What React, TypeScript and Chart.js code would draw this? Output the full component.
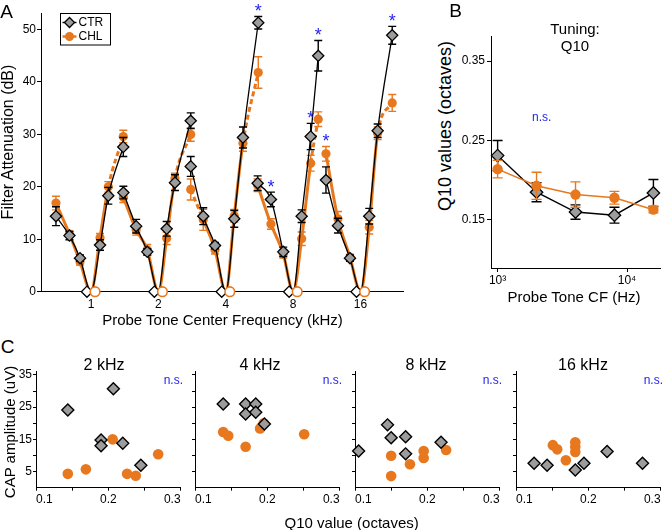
import React, { useEffect, useRef } from 'react';
import { Chart, registerables } from 'chart.js';

Chart.register(...registerables);

const FONT = '"Liberation Sans", Arial, Helvetica, sans-serif';
Chart.defaults.font.family = FONT;
Chart.defaults.font.size = 12;
Chart.defaults.color = '#000';

const ORANGE = '#E8781E';
const GRAY = '#9C9C9C';
const BLUE = '#2424F2';
const BLACK = '#000000';

// ---------------- Panel A : filter attenuation ----------------
const probeFreqsKHz = [1, 2, 4, 8, 16];
const probeOctaves = [0, 1, 2, 3, 4]; // log2(kHz)
const attenTicks = [0, 10, 20, 30, 40, 50];

// masker position relative to probe (octaves); index 3 = probe itself (0 dB)
const offsets1k = [-0.52, -0.32, -0.163, 0, 0.134, 0.257, 0.479];
const offsets2k = [-0.52, -0.33, -0.165, 0, 0.123, 0.246, 0.48];
const offsets4k = [-0.52, -0.334, -0.16, 0, 0.126, 0.255, 0.482];
const offsets8k = [-0.527, -0.33, -0.147, 0, 0.126, 0.26, 0.372];
const offsets16k = [-0.513, -0.335, -0.157, 0, 0.129, 0.254, 0.47];

const ctr1k = [14.4, 10.7, 6.4, 0, 8.9, 18.3, 27.6];
const ctr2k = [18.9, 12.5, 7.6, 0, 12.0, 20.8, 32.6];
const ctr4k = [23.9, 14.4, 8.8, 0, 13.9, 29.4, 51.3];
const ctr8k = [20.7, 17.6, 7.6, 0, 14.4, 29.6, 45.0];
const ctr16k = [21.3, 12.6, 6.4, 0, 14.4, 30.7, 48.9];

const ctrErr1k = [1.8, 0.8, 0.6, 0, 1.0, 1.6, 1.8];
const ctrErr2k = [1.2, 1.3, 0.6, 0, 1.4, 1.5, 1.5];
const ctrErr4k = [1.9, 1.6, 0.6, 0, 1.6, 2.0, 1.2];
const ctrErr8k = [1.4, 1.4, 0.9, 0, 1.2, 2.5, 2.9];
const ctrErr16k = [2.5, 1.4, 0.6, 0, 1.5, 1.3, 1.7];

const chl1k = [16.9, 11.0, 5.7, 0, 10.3, 20.0, 29.6];
const chl2k = [18.0, 11.8, 8.0, 0, 10.2, 21.6, 30.0];
const chl4k = [19.5, 13.7, 8.0, 0, 14.5, 28.3, 41.8];
const chl8k = [20.3, 12.9, 7.2, 0, 10.1, 24.5, 32.9];
const chl16k = [26.3, 13.9, 6.6, 0, 12.3, 30.2, 36.0];

const chlErr1k = [1.3, 0.6, 0.6, 0, 0.8, 1.0, 1.2];
const chlErr2k = [1.0, 1.0, 1.0, 0, 1.2, 1.0, 1.3];
const chlErr4k = [2.0, 2.0, 0.8, 0, 1.2, 1.5, 3.0];
const chlErr8k = [1.2, 1.0, 0.8, 0, 1.3, 1.5, 1.4];
const chlErr16k = [1.4, 1.4, 0.5, 0, 1.3, 1.2, 1.6];

// significant differences: [probe index, masker index]
const sigPoints = [[2, 6], [3, 1], [3, 5], [3, 6], [4, 0], [4, 6]];

const maskerOffsets = [offsets1k, offsets2k, offsets4k, offsets8k, offsets16k];
const ctrAtten = [ctr1k, ctr2k, ctr4k, ctr8k, ctr16k];
const ctrErr = [ctrErr1k, ctrErr2k, ctrErr4k, ctrErr8k, ctrErr16k];
const chlAtten = [chl1k, chl2k, chl4k, chl8k, chl16k];
const chlErr = [chlErr1k, chlErr2k, chlErr4k, chlErr8k, chlErr16k];

// ---------------- Panel B : Q10 tuning ----------------
const cfHz = [1000, 2000, 4000, 8000, 16000];
const q10Ctr = [0.231, 0.185, 0.160, 0.156, 0.184];
const q10CtrErr = [0.019, 0.012, 0.009, 0.010, 0.017];
const q10Chl = [0.214, 0.193, 0.182, 0.178, 0.163];
const q10ChlErr = [0.011, 0.017, 0.016, 0.008, 0.004];
const q10Ticks = [0.15, 0.25, 0.35];
const cfTicks = [1000, 10000];
const cfTickLabels = ['10³', '10⁴'];

// ---------------- Panel C : CAP amplitude vs Q10 ----------------
const cTitles = ['2 kHz', '4 kHz', '8 kHz', '16 kHz'];

const q10Ctr2k = [0.144, 0.207, 0.190, 0.190, 0.220, 0.245];
const capCtr2k = [24.1, 30.7, 14.8, 13.0, 13.8, 7.0];
const q10Chl2k = [0.144, 0.169, 0.206, 0.226, 0.238, 0.269];
const capChl2k = [4.3, 5.7, 15.0, 4.3, 3.7, 10.4];

const q10Ctr4k = [0.139, 0.170, 0.184, 0.170, 0.184, 0.196];
const capCtr4k = [26.0, 26.0, 26.0, 22.9, 23.4, 19.8];
const q10Chl4k = [0.139, 0.146, 0.170, 0.190, 0.195, 0.251];
const capChl4k = [17.3, 16.1, 12.7, 18.4, 20.0, 16.6];

const q10Ctr8k = [0.105, 0.145, 0.150, 0.170, 0.170, 0.219];
const capCtr8k = [11.4, 19.5, 15.5, 15.8, 10.5, 14.1];
const q10Chl8k = [0.150, 0.150, 0.176, 0.195, 0.195, 0.226];
const capChl8k = [9.9, 3.6, 7.3, 11.4, 9.2, 11.7];

const q10Ctr16k = [0.125, 0.143, 0.182, 0.194, 0.226, 0.275];
const capCtr16k = [7.6, 7.0, 5.5, 7.6, 11.2, 7.6];
const q10Chl16k = [0.151, 0.157, 0.169, 0.182, 0.182, 0.182];
const capChl16k = [13.2, 11.9, 8.5, 14.1, 12.7, 11.1];

const cCtrX = [q10Ctr2k, q10Ctr4k, q10Ctr8k, q10Ctr16k];
const cCtrY = [capCtr2k, capCtr4k, capCtr8k, capCtr16k];
const cChlX = [q10Chl2k, q10Chl4k, q10Chl8k, q10Chl16k];
const cChlY = [capChl2k, capChl4k, capChl8k, capChl16k];

const q10XTicks = [0.1, 0.15, 0.2, 0.25, 0.3];
const q10XTickLabels = ['0.1', '', '0.2', '', '0.3'];
const capTicks = [5, 10, 15, 20, 25, 30, 35];
const capTickLabels = ['5', '', '15', '', '25', '', '35'];

// ---------------- styling helpers ----------------
const chlDashedSegments = [[5], [5], [0, 5], [5], [5]];
const zeroMarkerShift = 0.06;

const errorBarPlugin = {
  id: 'errorBars',
  beforeDatasetDraw(chart: any, args: any) {
    const ds = chart.data.datasets[args.index];
    if (!ds.errors) return;
    const meta = args.meta;
    const yScale = chart.scales[meta.yAxisID];
    const ctx = chart.ctx;
    ctx.save();
    ctx.strokeStyle = ds.errorColor || BLACK;
    ctx.lineWidth = ds.errorWidth || 1.4;
    const cw = ds.capHalf || 4;
    meta.data.forEach((el: any, i: number) => {
      const e = ds.errors[i];
      if (!e) return;
      const v = ds.data[i].y;
      const x = el.x;
      const yt = yScale.getPixelForValue(v + e);
      const yb = yScale.getPixelForValue(v - e);
      ctx.beginPath();
      ctx.moveTo(x, yt); ctx.lineTo(x, yb);
      ctx.moveTo(x - cw, yt); ctx.lineTo(x + cw, yt);
      ctx.moveTo(x - cw, yb); ctx.lineTo(x + cw, yb);
      ctx.stroke();
    });
    ctx.restore();
  },
};

const starPlugin = {
  id: 'stars',
  afterDatasetsDraw(chart: any) {
    const xs = chart.scales.x;
    const ys = chart.scales.y;
    const ctx = chart.ctx;
    ctx.save();
    ctx.fillStyle = BLUE;
    ctx.font = `18px ${FONT}`;
    ctx.textAlign = 'center';
    ctx.textBaseline = 'alphabetic';
    sigPoints.forEach(([k, i]) => {
      const top = Math.max(ctrAtten[k][i] + ctrErr[k][i], chlAtten[k][i] + chlErr[k][i]);
      const px = xs.getPixelForValue(probeOctaves[k] + maskerOffsets[k][i]);
      const py = ys.getPixelForValue(top) - 10;
      ctx.fillText('*', px, py + 10.5);
    });
    ctx.restore();
  },
};

const legendPlugin = {
  id: 'boxLegend',
  afterDraw(chart: any) {
    const ctx = chart.ctx;
    const bx = 60.5, by = 13.5, bw = 50, bh = 31.5;
    ctx.save();
    ctx.strokeStyle = BLACK;
    ctx.lineWidth = 1;
    ctx.strokeRect(bx, by, bw, bh);
    const rows = [
      { label: 'CTR', y: by + 9, line: BLACK, lw: 1.4 },
      { label: 'CHL', y: by + 23, line: ORANGE, lw: 2.5 },
    ];
    rows.forEach((r, idx) => {
      ctx.strokeStyle = r.line;
      ctx.lineWidth = r.lw;
      ctx.beginPath();
      ctx.moveTo(bx + 2, r.y);
      ctx.lineTo(bx + 16, r.y);
      ctx.stroke();
      const cx = bx + 9;
      if (idx === 0) {
        ctx.beginPath();
        ctx.moveTo(cx - 5, r.y); ctx.lineTo(cx, r.y - 5); ctx.lineTo(cx + 5, r.y); ctx.lineTo(cx, r.y + 5);
        ctx.closePath();
        ctx.fillStyle = GRAY; ctx.fill();
        ctx.strokeStyle = BLACK; ctx.lineWidth = 1.3; ctx.stroke();
      } else {
        ctx.beginPath();
        ctx.arc(cx, r.y, 4.5, 0, Math.PI * 2);
        ctx.fillStyle = ORANGE; ctx.fill();
      }
      ctx.fillStyle = BLACK;
      ctx.font = `12px ${FONT}`;
      ctx.textAlign = 'left';
      ctx.textBaseline = 'middle';
      ctx.fillText(r.label, bx + 18, r.y + 0.5);
    });
    ctx.restore();
  },
};

function configA() {
  const datasets: any[] = [];
  const keep = [0, 1, 2, 4, 5, 6];
  probeOctaves.forEach((p, k) => {
    const xs = maskerOffsets[k].map((o) => p + o);
    datasets.push({
      data: xs.map((x, i) => ({ x, y: chlAtten[k][i] })),
      showLine: true, borderColor: ORANGE, borderWidth: 3, pointRadius: 0,
      cubicInterpolationMode: 'monotone', order: 40, clip: false,
      segment: { borderDash: (c: any) => (chlDashedSegments[k].includes(c.p0DataIndex) ? [5, 3] : undefined) },
    });
    datasets.push({
      data: keep.map((i) => ({ x: xs[i], y: chlAtten[k][i] })),
      errors: keep.map((i) => chlErr[k][i]), errorColor: ORANGE, capHalf: 4,
      showLine: false, pointStyle: 'circle', pointRadius: 4.6,
      backgroundColor: ORANGE, borderColor: ORANGE, borderWidth: 0, order: 30, clip: false,
    });
    datasets.push({
      data: xs.map((x, i) => ({ x, y: ctrAtten[k][i] })),
      showLine: true, borderColor: BLACK, borderWidth: 1.3, pointRadius: 0,
      cubicInterpolationMode: 'monotone', order: 20, clip: false,
    });
    datasets.push({
      data: keep.map((i) => ({ x: xs[i], y: ctrAtten[k][i] })),
      errors: keep.map((i) => ctrErr[k][i]), errorColor: BLACK, capHalf: 4,
      showLine: false, pointStyle: 'rectRot', pointRadius: 5.6,
      backgroundColor: GRAY, borderColor: BLACK, borderWidth: 1.3, order: 10, clip: false,
    });
  });
  datasets.push({
    data: probeOctaves.map((p) => ({ x: p - zeroMarkerShift, y: 0 })),
    showLine: false, pointStyle: 'rectRot', pointRadius: 5.6,
    backgroundColor: '#ffffff', borderColor: BLACK, borderWidth: 1.3, order: 6, clip: false,
  });
  datasets.push({
    data: probeOctaves.map((p) => ({ x: p + zeroMarkerShift, y: 0 })),
    showLine: false, pointStyle: 'circle', pointRadius: 4.8,
    backgroundColor: '#ffffff', borderColor: ORANGE, borderWidth: 1.6, order: 5, clip: false,
  });

  return {
    type: 'scatter',
    data: { datasets },
    plugins: [errorBarPlugin, starPlugin, legendPlugin],
    options: {
      animation: false, responsive: false, maintainAspectRatio: false, events: [],
      layout: { padding: { left: 0, top: 13.3, right: 12, bottom: 0 } },
      plugins: { legend: { display: false }, tooltip: { enabled: false } },
      scales: {
        x: {
          type: 'linear', min: -0.742, max: 4.63,
          afterBuildTicks: (s: any) => { s.ticks = probeOctaves.map((v) => ({ value: v })); },
          afterFit: (s: any) => { s.height = 28.3; },
          ticks: {
            autoSkip: false, maxRotation: 0, padding: 6, font: { size: 12 }, color: BLACK,
            callback: (_v: any, i: number) => String(probeFreqsKHz[i]),
          },
          grid: { display: false, drawTicks: false },
          border: { display: true, color: BLACK, width: 1 },
        },
        y: {
          type: 'linear', min: 0, max: 53.1,
          afterBuildTicks: (s: any) => { s.ticks = attenTicks.map((v) => ({ value: v })); },
          afterFit: (s: any) => { s.width = 41; },
          ticks: { padding: 1, font: { size: 12 }, color: BLACK, callback: (v: any) => String(v) },
          grid: { drawOnChartArea: false, drawTicks: true, tickLength: 4, color: BLACK, tickColor: BLACK },
          border: { display: true, color: BLACK, width: 1 },
        },
      },
    },
  };
}

function configB() {
  return {
    type: 'scatter',
    data: {
      datasets: [
        {
          data: cfHz.map((f, i) => ({ x: f, y: q10Chl[i] })),
          errors: q10ChlErr, errorColor: ORANGE, capHalf: 5,
          showLine: true, borderColor: ORANGE, borderWidth: 1.5,
          pointStyle: 'circle', pointRadius: 5.2, pointBackgroundColor: ORANGE,
          pointBorderColor: ORANGE, pointBorderWidth: 0, order: 1, clip: false,
        },
        {
          data: cfHz.map((f, i) => ({ x: f, y: q10Ctr[i] })),
          errors: q10CtrErr, errorColor: BLACK, capHalf: 5,
          showLine: true, borderColor: BLACK, borderWidth: 1.4,
          pointStyle: 'rectRot', pointRadius: 6.2, pointBackgroundColor: GRAY,
          pointBorderColor: BLACK, pointBorderWidth: 1.3, order: 2, clip: false,
        },
      ],
    },
    plugins: [errorBarPlugin],
    options: {
      animation: false, responsive: false, maintainAspectRatio: false, events: [],
      layout: { padding: { left: 0, top: 11.7, right: 5, bottom: 0 } },
      plugins: { legend: { display: false }, tooltip: { enabled: false } },
      scales: {
        x: {
          type: 'logarithmic', min: 889, max: 18150,
          afterBuildTicks: (s: any) => { s.ticks = cfTicks.map((v) => ({ value: v })); },
          afterFit: (s: any) => { s.height = 32; },
          ticks: {
            autoSkip: false, maxRotation: 0, padding: 1, font: { size: 12 }, color: BLACK,
            callback: (_v: any, i: number) => cfTickLabels[i],
          },
          grid: { drawOnChartArea: false, drawTicks: true, tickLength: 4, color: BLACK, tickColor: BLACK },
          border: { display: true, color: BLACK, width: 1 },
        },
        y: {
          type: 'linear', min: 0.0896, max: 0.3806,
          afterBuildTicks: (s: any) => { s.ticks = q10Ticks.map((v) => ({ value: v })); },
          afterFit: (s: any) => { s.width = 36; },
          ticks: { padding: 2, font: { size: 12 }, color: BLACK, callback: (v: any) => Number(v).toFixed(2) },
          grid: { drawOnChartArea: false, drawTicks: true, tickLength: 4, color: BLACK, tickColor: BLACK },
          border: { display: true, color: BLACK, width: 1 },
        },
      },
    },
  };
}

function configC(k: number) {
  return () => ({
    type: 'scatter',
    data: {
      datasets: [
        {
          data: cChlX[k].map((x, i) => ({ x, y: cChlY[k][i] })),
          pointStyle: 'circle', pointRadius: 5.3, backgroundColor: ORANGE,
          borderColor: ORANGE, borderWidth: 0, order: 2, clip: false,
        },
        {
          data: cCtrX[k].map((x, i) => ({ x, y: cCtrY[k][i] })),
          pointStyle: 'rectRot', pointRadius: 6, backgroundColor: GRAY,
          borderColor: BLACK, borderWidth: 1.4, order: 1, clip: false,
        },
      ],
    },
    options: {
      animation: false, responsive: false, maintainAspectRatio: false, events: [],
      layout: { padding: { left: 0, top: 11.7, right: 3, bottom: 0 } },
      plugins: { legend: { display: false }, tooltip: { enabled: false } },
      scales: {
        x: {
          type: 'linear', min: 0.1, max: 0.3,
          afterBuildTicks: (s: any) => { s.ticks = q10XTicks.map((v) => ({ value: v })); },
          afterFit: (s: any) => { s.height = 17.3; },
          ticks: {
            align: 'inner', autoSkip: false, maxRotation: 0, padding: 1.5, font: { size: 12 }, color: BLACK,
            callback: (_v: any, i: number) => q10XTickLabels[i],
          },
          grid: { drawOnChartArea: false, drawTicks: true, tickLength: 3, color: BLACK, tickColor: BLACK },
          border: { display: true, color: BLACK, width: 1 },
        },
        y: {
          type: 'linear', min: 0, max: 36,
          afterBuildTicks: (s: any) => { s.ticks = capTicks.map((v) => ({ value: v })); },
          afterFit: (s: any) => { s.width = 36; },
          ticks: {
            padding: 1, font: { size: 12 }, color: BLACK,
            callback: (_v: any, i: number) => (k === 0 ? capTickLabels[i] : ''),
          },
          grid: { drawOnChartArea: false, drawTicks: true, tickLength: 3, color: BLACK, tickColor: BLACK },
          border: { display: true, color: BLACK, width: 1 },
        },
      },
    },
  });
}

function ChartCanvas({ left, top, width, height, make }: any) {
  const ref = useRef<HTMLCanvasElement | null>(null);
  useEffect(() => {
    if (!ref.current) return;
    const chart = new Chart(ref.current, make());
    return () => chart.destroy();
  }, []);
  return (
    <canvas
      ref={ref}
      width={width}
      height={height}
      style={{ position: 'absolute', left, top, width, height, display: 'block' }}
    />
  );
}

function Txt({ x, y, size, children, rotate, color, align }: any) {
  const tx = align === 'right' ? '-100%' : align === 'left' ? '0%' : '-50%';
  return (
    <div
      style={{
        position: 'absolute', left: x, top: y, fontFamily: FONT, fontSize: size,
        lineHeight: 1, color: color || BLACK, whiteSpace: 'nowrap',
        transform: `translate(${tx}, -50%)${rotate ? ' rotate(-90deg)' : ''}`,
      }}
    >
      {children}
    </div>
  );
}

const cLefts = [36, 195, 355, 516];
const cTitleX = [104, 260, 426, 583];

export default function App() {
  return (
    <div
      style={{
        position: 'absolute', left: 0, top: 0, width: 668, height: 530,
        background: '#ffffff', overflow: 'hidden', fontFamily: FONT,
      }}
    >
      <ChartCanvas left={0} top={0} width={415} height={320} make={configA} />
      <ChartCanvas left={455} top={25} width={213} height={275} make={configB} />
      {cLefts.map((l, k) => (
        <ChartCanvas key={k} left={l - 36} top={360} width={36 + 149 + 3} height={145} make={configC(k)} />
      ))}

      <Txt x={6.5} y={10.5} size={19}>A</Txt>
      <Txt x={455.5} y={10} size={19}>B</Txt>
      <Txt x={7.5} y={345.5} size={19}>C</Txt>

      <Txt x={8} y={141.5} size={16} rotate>Filter Attenuation (dB)</Txt>
      <Txt x={222.5} y={318.5} size={15}>Probe Tone Center Frequency (kHz)</Txt>

      <Txt x={575} y={27.5} size={15}>Tuning:</Txt>
      <Txt x={575} y={44.5} size={15}>Q10</Txt>
      <Txt x={445} y={126} size={18} rotate>Q10 values (octaves)</Txt>
      <Txt x={574} y={295.5} size={15}>Probe Tone CF (Hz)</Txt>
      <Txt x={541.7} y={117} size={12} color={BLUE}>n.s.</Txt>

      {cTitles.map((t, k) => (
        <Txt key={'t' + k} x={cTitleX[k]} y={365} size={16}>{t}</Txt>
      ))}
      {cLefts.map((l, k) => (
        <Txt key={'n' + k} x={l + 147} y={380} size={12} color={BLUE} align="right">n.s.</Txt>
      ))}
      <Txt x={9} y={432} size={15} rotate>CAP amplitude (uV)</Txt>
      <Txt x={351.7} y={521.7} size={15}>Q10 value (octaves)</Txt>
    </div>
  );
}
